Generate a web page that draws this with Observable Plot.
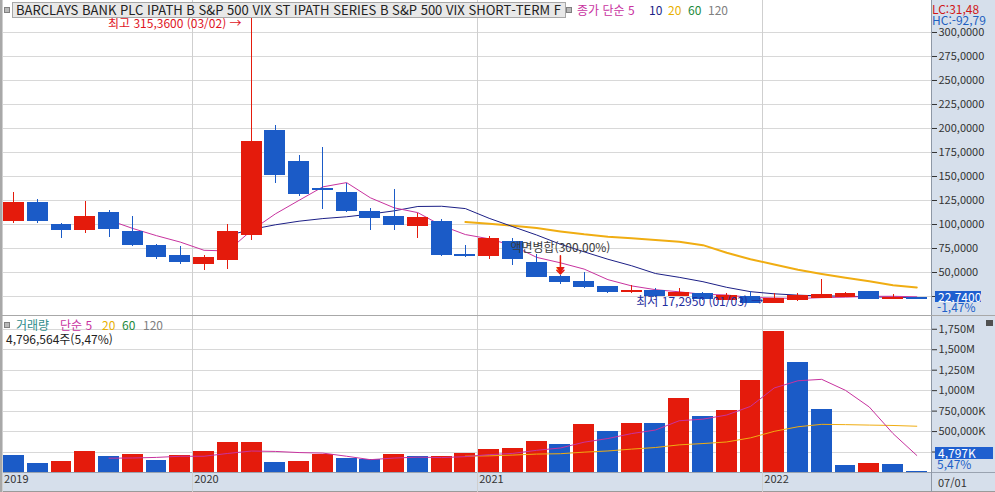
<!DOCTYPE html>
<html lang="ko">
<head>
<meta charset="utf-8">
<script src="https://cdn.jsdelivr.net/npm/d3@7"></script>
<script src="https://cdn.jsdelivr.net/npm/@observablehq/plot@0.6"></script>
<style>
  body { margin: 0; background: #fff; }
  #chart { position: relative; width: 995px; height: 492px; overflow: hidden; background: #fff;
           font-family: "Noto Sans CJK KR", "Noto Sans", sans-serif; }
  #chart > * { position: absolute; }
  .t { white-space: nowrap; font-size: 12px; line-height: 12px; }
</style>
</head>
<body>
<div id="chart"></div>
<script>
// monthly candles 2019-05 .. 2022-07 (adjusted for the 2021 reverse split)
const months = ["2019-05","2019-06","2019-07","2019-08","2019-09","2019-10","2019-11","2019-12",
  "2020-01","2020-02","2020-03","2020-04","2020-05","2020-06","2020-07","2020-08","2020-09","2020-10","2020-11","2020-12",
  "2021-01","2021-02","2021-03","2021-04","2021-05","2021-06","2021-07","2021-08","2021-09","2021-10","2021-11","2021-12",
  "2022-01","2022-02","2022-03","2022-04","2022-05","2022-06","2022-07"];
const open  = [103.4,121.9,99.0,94.1,112.5,92.7,77.1,66.7,58.6,62.8,88.9,197.9,164.6,136.6,133.3,113.5,107.3,98.2,102.1,68.2,
  67.0,81.3,60.4,45.8,39.6,34.4,29.2,30.6,25.7,27.8,21.6,24.3,18.4,21.1,23.6,24.7,29.2,21.9,23.3];
const high  = [133.3,125.7,101.4,124.3,114.6,108.3,79.2,77.1,67.7,100.0,315.36,203.1,171.9,180.5,143.0,116.4,136.1,111.1,104.9,77.9,
  87.5,85.7,68.4,46.5,50.0,35.7,36.8,33.0,33.3,29.2,28.4,30.2,27.8,27.8,42.7,29.5,29.9,27.1,23.4];
const low   = [101.4,100.7,85.7,90.3,86.8,77.4,63.9,58.6,52.4,53.4,83.3,143.0,129.5,115.3,112.2,93.8,93.8,85.7,67.0,65.3,
  63.9,57.6,44.5,37.5,33.3,28.4,28.4,24.3,25.0,20.8,20.8,18.0,17.295,19.5,22.5,24.0,22.2,21.6,22.5];
const close = [121.9,103.4,94.1,108.3,95.1,78.4,65.9,60.7,65.6,91.7,185.7,151.4,131.6,135.6,113.9,106.6,99.3,106.3,68.0,67.4,
  84.4,63.9,45.1,39.6,34.7,29.5,31.25,25.5,28.4,21.9,25.7,18.75,22.6,25.7,26.4,28.1,22.9,23.08,22.74];
// monthly volume, millions of shares
const volume = [201.7,103.9,128.4,250.6,189.5,213.9,140.6,198.0,250.6,360.6,362.0,116.0,128.0,218.0,169.0,153.0,214.0,186.0,189.5,226.0,
  275.0,291.0,373.0,332.0,581.0,499.0,593.0,590.0,898.0,678.0,752.0,1119.0,1717.0,1339.0,764.0,79.0,104.0,92.0,4.796564];

const priceTicks = d3.range(25, 301, 25);
const volumeTicks = d3.range(250, 1751, 250);
const highDate = "03/02", lowDate = "01/03", lastDate = "07/01";
const splitMonth = "2021-04", splitText = "액면병합(300,00%)";
const lastVolumeShares = 4796564, volumeRatio = "5,47%";
const title = "BARCLAYS BANK PLC IPATH B S&P 500 VIX ST  IPATH SERIES B S&P 500 VIX SHORT-TERM F";

const rows = months.map((m, i) => ({i, m, open: open[i], high: high[i], low: low[i], close: close[i], vol: volume[i]}));
rows.forEach((d, i) => d.volUp = i > 0 && d.vol > rows[i - 1].vol);
const yearStart = rows.filter((d, i) => i === 0 || d.m.endsWith("-01"));
const hi = d3.greatest(rows, d => d.high);
const lo = d3.least(rows, d => d.low);
const split = rows.filter(d => d.m === splitMonth);
const last = rows[rows.length - 1], prev = rows[rows.length - 2];

const fmtPrice = v => v.toFixed(4).replace(".", ",");
const fmtPct = v => v.toFixed(2).replace(".", ",") + "%";
const fmtVol = v => v >= 1000 ? d3.format(",")(v) + "M" : d3.format(",")(v * 1000) + "K";

const RED = "#e41b0c", BLUE = "#1b5bc7";
const MA5 = "#c8339f", MA10 = "#1c1f86", MA20 = "#f0ad12";
const font = '"Noto Sans CJK KR", sans-serif';
const half = 0.44;
const X = {domain: [-0.568, 38.62], axis: null};
const style = {background: "transparent", color: "#333", fontSize: "11px", fontFamily: font, overflow: "visible"};

const ma = (k, y, stroke, w) => Plot.lineY(rows, Plot.windowY({k, anchor: "end", strict: true}, {x: "i", y, stroke, strokeWidth: w}));

const price = Plot.plot({
  width: 995, height: 316,
  marginTop: 0, marginBottom: 0, marginLeft: 0, marginRight: 64,
  x: X,
  y: {domain: [4.17, 333.33], axis: "right", ticks: priceTicks, tickFormat: fmtPrice, tickSize: 5, tickPadding: 2, label: null},
  style,
  marks: [
    Plot.ruleY(priceTicks, {stroke: "#d8d8d8", shapeRendering: "crispEdges"}),
    Plot.ruleX(yearStart, {x: d => d.i - 0.5, stroke: "#cfcfcf", shapeRendering: "crispEdges"}),
    ma(20, "close", MA20, 2),
    ma(10, "close", MA10, 1),
    ma(5, "close", MA5, 1),
    Plot.ruleX(rows, {x: "i", y1: "low", y2: "high", stroke: d => d.close >= d.open ? RED : BLUE, shapeRendering: "crispEdges"}),
    Plot.rect(rows, {x1: d => d.i - half, x2: d => d.i + half, y1: "open", y2: "close",
      fill: d => d.close >= d.open ? RED : BLUE, insetTop: -0.5, insetBottom: -0.5, shapeRendering: "crispEdges"}),
    Plot.text([hi], {x: "i", y: "high", text: d => `최고 ${fmtPrice(d.high)} (${highDate}) →`,
      textAnchor: "end", dx: -10, dy: 6, fill: "#e0141e", fontSize: 12, fontFamily: font}),
    Plot.text([lo], {x: "i", y: "low", text: d => `최저 ${fmtPrice(d.low)} (${lowDate}) →`,
      textAnchor: "end", dx: -11, dy: -2, fill: "#1f2e9e", fontSize: 12, fontFamily: font}),
    Plot.text(split, {x: "i", y: "high", text: () => splitText, dy: -28, fill: "#3a3a3a", fontSize: 12, fontFamily: font}),
    Plot.vector(split, {x: "i", y: "high", length: 18, rotate: 180, anchor: "end", dy: -2, stroke: RED}),
    Plot.text(split, {x: "i", y: "high", text: () => "▼", dy: -5, fill: RED, fontSize: 9, fontFamily: font})
  ]
});

const vol = Plot.plot({
  width: 995, height: 176,
  marginTop: 0, marginBottom: 20, marginLeft: 0, marginRight: 64,
  x: X,
  y: {domain: [0, 1906], axis: "right", ticks: volumeTicks, tickFormat: fmtVol, tickSize: 5, tickPadding: 2, label: null},
  style,
  marks: [
    Plot.ruleY(volumeTicks, {stroke: "#d8d8d8", shapeRendering: "crispEdges"}),
    Plot.ruleX(yearStart, {x: d => d.i - 0.5, stroke: "#cfcfcf", insetBottom: -20, shapeRendering: "crispEdges"}),
    Plot.rectY(rows, {x1: d => d.i - half, x2: d => d.i + half, y: "vol", fill: d => d.volUp ? RED : BLUE,
      insetTop: -0.6, shapeRendering: "crispEdges"}),
    ma(20, "vol", MA20, 1),
    ma(5, "vol", MA5, 1),
    Plot.text(yearStart, {x: d => d.i - 0.5, frameAnchor: "bottom", dy: 10, dx: 2, textAnchor: "start",
      text: d => d.m.slice(0, 4), fill: "#333", fontSize: 11, fontFamily: font})
  ]
});

// page furniture
const chart = document.getElementById("chart");
function box(x, y, w, h, css) {
  const el = document.createElement("div");
  Object.assign(el.style, {left: x + "px", top: y + "px", width: w + "px", height: h + "px"}, css);
  chart.appendChild(el);
  return el;
}
function put(txt, x, cy, color, size = 12, fit) {
  const el = document.createElement("div");
  el.className = "t";
  el.textContent = txt;
  Object.assign(el.style, {left: x + "px", top: (cy - size / 2) + "px", color, fontSize: size + "px", lineHeight: size + "px"});
  chart.appendChild(el);
  if (fit) {
    const w = el.getBoundingClientRect().width;
    el.style.transformOrigin = "0 50%";
    el.style.transform = `scaleX(${fit / w})`;
  }
  return el;
}

box(931, 0, 64, 492, {background: "#d6dfeb"});
box(0, 472, 995, 18, {background: "#d6dfeb", borderTop: "1px solid #9aa3b0", borderBottom: "2px solid #9a9a9a"});
price.style.top = "0px";
vol.style.top = "316px";
chart.appendChild(price);
chart.appendChild(vol);
box(931, 0, 1, 492, {background: "#8e98a6"});
box(0, 315, 995, 1, {background: "#a8a8a8"});
box(0, 0, 2, 492, {background: "#a8a8a8"});

// price header
box(4, 7, 4, 4, {background: "#b8b8b8", border: "1px solid #808080"});
box(12, 2, 552, 14, {background: "#e8e8e8", border: "1px solid #a8a8a8"});
put(title, 16, 9.5, "#222", 13, 545);
box(566, 7, 4, 4, {background: "#b8b8b8", border: "1px solid #808080"});
put("종가 단순 5", 577, 9.5, MA5);
put("10", 649, 9.5, MA10);
put("20", 668, 9.5, "#e8b000");
put("60", 688, 9.5, "#1e8a3c");
put("120", 708, 9.5, "#808080");
put(`LC:${((last.close / lo.low - 1) * 100).toFixed(2).replace(".", ",")}`, 932, 8.5, "#d01818");
put(`HC:${((last.close / hi.high - 1) * 100).toFixed(2).replace(".", ",")}`, 932, 20, "#1f5fbf");
box(935, 291, 46, 11, {background: "#1f5fcf"});
put(fmtPrice(last.close), 938, 296.5, "#fff");
put(fmtPct((last.close / prev.close - 1) * 100), 937, 307, "#2060c8");

// volume header
box(4, 322, 4, 4, {background: "#b8b8b8", border: "1px solid #808080"});
put("거래량", 16, 325, "#2e8b8b");
put("단순 5", 60, 325, MA5);
put("20", 102, 325, "#e8b000");
put("60", 122, 325, "#1e8a3c");
put("120", 143, 325, "#808080");
put(`${d3.format(",")(lastVolumeShares)}주(${volumeRatio})`, 6, 339, "#222");
box(986, 320, 7, 6, {background: "#505050"});
box(935, 447, 58, 12, {background: "#1f5fcf"});
put(d3.format(",")(Math.round(lastVolumeShares / 1000)) + "K", 938, 453, "#fff");
put(volumeRatio, 937, 464, "#2060c8");
put(lastDate, 938, 482, "#333", 11);
</script>
</body>
</html>
